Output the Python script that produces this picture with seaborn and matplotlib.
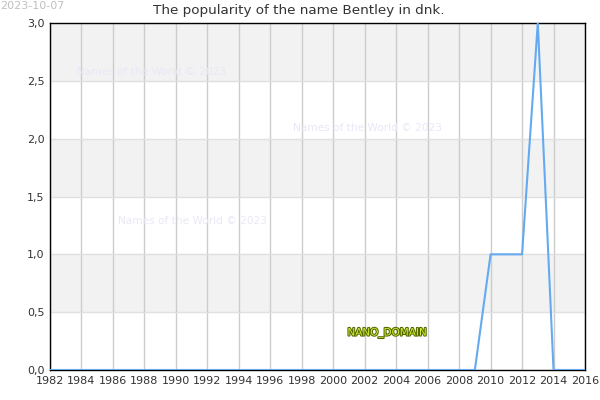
import matplotlib
matplotlib.use("Agg")
import matplotlib.pyplot as plt
import matplotlib.patheffects as pe
import seaborn as sns
import pandas as pd
from matplotlib.ticker import FuncFormatter

years = list(range(1982, 2017))
values = [0]*28 + [1, 1, 1, 3, 0, 0, 0]  # 1982..2009 zeros, 2010-2012 = 1, 2013 = 3, 2014-2016 = 0
y_ticks = [0.0, 0.5, 1.0, 1.5, 2.0, 2.5, 3.0]
x_ticks = list(range(1982, 2017, 2))

df = pd.DataFrame({"year": years, "value": values})

sns.set_style("white")
plt.rcParams['font.family'] = ['DejaVu Sans']

fig = plt.figure(figsize=(6, 4), dpi=100)
ax = fig.add_axes([0.0833, 0.075, 0.8917, 0.8675])

# alternating bands
for i in range(len(y_ticks) - 1):
    if i % 2 == 1:
        ax.axhspan(y_ticks[i], y_ticks[i+1], color="#f2f2f2", zorder=0, lw=0)

for x in x_ticks:
    ax.axvline(x, color="#cccccc", lw=1, zorder=1)
for y in y_ticks:
    ax.axhline(y, color="#e0e0e0", lw=1, zorder=1)

sns.lineplot(data=df, x="year", y="value", ax=ax, color="#64aaf0", lw=1.5, zorder=3)

ax.set_xlim(1982, 2016)
ax.set_ylim(0, 3)
ax.set_xticks(x_ticks)
ax.set_yticks(y_ticks)
ax.yaxis.set_major_formatter(FuncFormatter(lambda v, p: f"{v:.1f}".replace(".", ",")))
ax.tick_params(axis="both", labelsize=8, colors="#333333", length=0, pad=4)
ax.set_xlabel("")
ax.set_ylabel("")
for s in ax.spines.values():
    s.set_color("black")
    s.set_linewidth(1)
    s.set_visible(True)

fig.text(0.498, 0.973, "The popularity of the name Bentley in dnk.", ha="center", va="center",
         fontsize=9.7, color="#333333")
fig.text(0.0, 0.997, "2023-10-07", ha="left", va="top", fontsize=8, color="#c0c0c0")

wm = "#e8e8f8"
fig.text(77/600, 1-72/400, "Names of the World © 2023", fontsize=7.6, color=wm, va="center")
fig.text(293/600, 1-128/400, "Names of the World © 2023", fontsize=7.6, color=wm, va="center")
fig.text(118/600, 1-221/400, "Names of the World © 2023", fontsize=7.6, color=wm, va="center")

t = fig.text(387/600, 1-333/400, "NANO_DOMAIN", fontsize=7.5, color="#ccee33", ha="center", va="center")
t.set_path_effects([pe.withStroke(linewidth=1.5, foreground="#556600")])

fig.savefig("out.png", dpi=100)
